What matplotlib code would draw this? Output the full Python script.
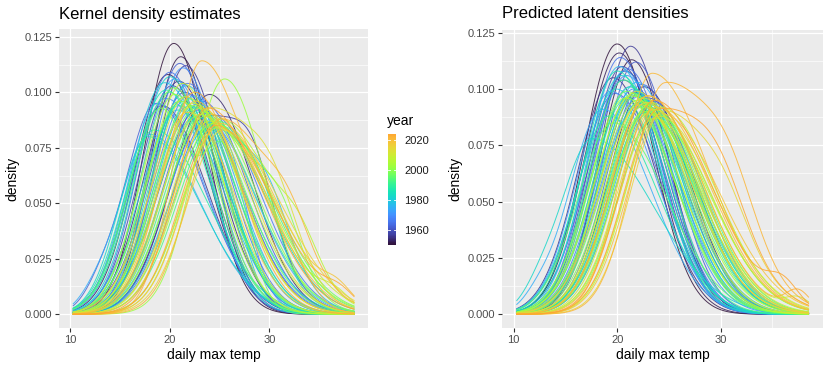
import numpy as np
import matplotlib
matplotlib.use("Agg")
import matplotlib.pyplot as plt
from matplotlib.colors import ListedColormap, Normalize
from matplotlib.cm import ScalarMappable

plt.rcParams['font.family'] = ['Liberation Sans', 'DejaVu Sans']

# ---------------- data ----------------
years = list(range(1950, 2025))
x_min, x_max = 10.3, 38.5

# Kernel density estimates: per-year curve shape (mode, peak height, left/right spread, extra bump)
kde_mode = [20.4, 21.1, 19.8, 24.0, 20.9, 19.2, 21.6, 23.5, 20.2, 22.8,
            21.5, 21.0, 18.6, 23.2, 20.0, 21.8, 24.2, 22.0, 19.5, 22.5,
            21.3, 18.8, 23.6, 20.5, 18.0, 22.3, 21.7, 23.9, 20.8, 19.4,
            22.6, 20.0, 17.8, 24.5, 21.2, 19.6, 23.0, 18.4, 21.5, 22.0,
            20.9, 23.3, 19.9, 24.8, 22.1, 19.0, 22.7, 25.0, 20.4, 23.5,
            23.6, 21.0, 25.5, 20.5, 24.3, 22.4, 25.0, 21.3, 23.0, 24.0,
            22.4, 24.8, 21.6, 24.0, 23.1, 25.3, 22.6, 21.8, 25.0, 24.2,
            23.2, 25.2, 22.5, 24.6, 23.8]
kde_peak = [0.122, 0.116, 0.108, 0.099, 0.105, 0.094, 0.112, 0.088, 0.103, 0.092,
            0.100, 0.113, 0.095, 0.096, 0.109, 0.104, 0.090, 0.099, 0.097, 0.093,
            0.111, 0.095, 0.087, 0.106, 0.081, 0.098, 0.103, 0.084, 0.092, 0.104,
            0.089, 0.107, 0.080, 0.086, 0.096, 0.101, 0.091, 0.083, 0.098, 0.094,
            0.094, 0.090, 0.100, 0.087, 0.097, 0.092, 0.093, 0.085, 0.102, 0.089,
            0.091, 0.096, 0.106, 0.099, 0.086, 0.094, 0.088, 0.104, 0.090, 0.087,
            0.095, 0.084, 0.098, 0.092, 0.093, 0.083, 0.096, 0.091, 0.086, 0.090,
            0.114, 0.088, 0.100, 0.085, 0.093]
kde_sd_left = [3.0, 3.0, 3.3, 3.8, 3.4, 3.3, 3.1, 3.7, 3.3, 3.9,
               3.6, 3.1, 3.1, 3.8, 3.2, 3.4, 3.9, 3.6, 3.3, 3.9,
               3.2, 3.1, 3.9, 3.3, 3.0, 3.6, 3.4, 3.9, 3.7, 3.3,
               3.9, 3.3, 2.9, 4.0, 3.6, 3.4, 3.7, 3.1, 3.5, 3.6,
               3.5, 3.8, 3.5, 3.9, 3.6, 3.2, 3.8, 3.7, 3.3, 3.8,
               3.8, 3.5, 3.2, 3.4, 3.7, 3.8, 3.5, 3.4, 3.8, 3.7,
               3.6, 3.6, 3.4, 3.7, 3.7, 3.5, 3.6, 3.8, 3.5, 3.6,
               2.8, 3.3, 3.4, 3.5, 3.3]
kde_sd_right = [3.4, 3.3, 3.9, 4.3, 4.0, 4.5, 3.6, 4.9, 4.0, 4.6,
                4.1, 3.5, 4.8, 4.6, 3.8, 4.2, 4.9, 4.4, 4.6, 4.8,
                3.8, 4.7, 5.0, 4.0, 5.2, 4.4, 4.0, 5.1, 4.6, 4.2,
                5.0, 3.9, 5.4, 5.2, 4.5, 4.3, 4.9, 5.4, 4.2, 4.6,
                4.6, 5.2, 4.3, 5.3, 4.4, 3.0, 4.8, 5.4, 4.1, 5.2,
                5.1, 4.5, 3.9, 4.3, 5.6, 4.7, 5.5, 3.9, 5.0, 5.6,
                4.7, 5.8, 4.3, 5.3, 5.0, 5.8, 4.6, 4.6, 5.6, 5.4,
                4.4, 5.6, 4.4, 5.7, 5.4]
kde_bump_x = [0, 0, 0, 0, 0, 0, 0, 28.5, 0, 0,
              0, 0, 13.0, 0, 0, 0, 0, 0, 26.0, 0,
              0, 0, 0, 0, 12.5, 0, 0, 30.0, 0, 25.5,
              0, 0, 0, 0, 0, 0, 29.0, 0, 0, 0,
              0, 0, 0, 0, 0, 25.6, 0, 0, 0, 31.0,
              0, 0, 0, 0, 0, 0, 33.0, 0, 0, 36.5,
              0, 0, 0, 30.5, 0, 0, 0, 0, 36.8, 0,
              31.0, 32.0, 0, 37.0, 0]
kde_bump_h = [0, 0, 0, 0, 0, 0, 0, 0.025, 0, 0,
              0, 0, 0.006, 0, 0, 0, 0, 0, 0.040, 0,
              0, 0, 0, 0, 0.005, 0, 0, 0.020, 0, 0.030,
              0, 0, 0, 0, 0, 0, 0.022, 0, 0, 0,
              0, 0, 0, 0, 0, 0.068, 0, 0, 0, 0.025,
              0, 0, 0, 0, 0, 0, 0.015, 0, 0, 0.006,
              0, 0, 0, 0.025, 0, 0, 0, 0, 0.007, 0,
              0.022, 0.014, 0, 0.006, 0]
kde_bump_w = [1, 1, 1, 1, 1, 1, 1, 2.0, 1, 1,
              1, 1, 1.5, 1, 1, 1, 1, 1, 2.0, 1,
              1, 1, 1, 1, 1.5, 1, 1, 2.2, 1, 2.0,
              1, 1, 1, 1, 1, 1, 2.0, 1, 1, 1,
              1, 1, 1, 1, 1, 2.2, 1, 1, 1, 2.2,
              1, 1, 1, 1, 1, 1, 2.0, 1, 1, 1.5,
              1, 1, 1, 2.5, 1, 1, 1, 1, 1.5, 1,
              2.5, 2.0, 1, 1.5, 1]

# Predicted latent densities: per-year curve shape
pred_mode = [20.0, 21.4, 20.2, 22.6, 20.8, 19.6, 21.3, 23.0, 20.5, 22.0,
             20.6, 21.8, 19.8, 22.4, 21.0, 20.3, 23.5, 21.6, 20.9, 22.2,
             21.2, 19.4, 22.8, 20.7, 18.6, 21.9, 20.2, 23.2, 21.5, 19.9,
             22.1, 20.4, 17.6, 23.0, 21.7, 20.0, 22.5, 19.2, 21.3, 22.9,
             21.0, 22.6, 20.6, 23.4, 21.8, 19.6, 22.2, 23.7, 20.9, 22.4,
             23.1, 21.5, 22.7, 20.8, 23.6, 22.0, 24.2, 21.4, 22.9, 23.3,
             22.5, 24.0, 21.9, 23.5, 22.8, 24.5, 23.0, 22.2, 24.3, 23.8,
             23.4, 24.6, 22.9, 24.0, 23.6]
pred_peak = [0.120, 0.113, 0.116, 0.101, 0.108, 0.105, 0.119, 0.096, 0.110, 0.099,
             0.104, 0.112, 0.098, 0.102, 0.109, 0.114, 0.094, 0.100, 0.106, 0.097,
             0.101, 0.099, 0.095, 0.108, 0.091, 0.103, 0.110, 0.093, 0.097, 0.100,
             0.094, 0.106, 0.078, 0.092, 0.098, 0.108, 0.095, 0.088, 0.101, 0.090,
             0.096, 0.093, 0.104, 0.091, 0.097, 0.085, 0.094, 0.089, 0.099, 0.092,
             0.093, 0.098, 0.090, 0.096, 0.087, 0.095, 0.092, 0.097, 0.089, 0.094,
             0.096, 0.088, 0.099, 0.091, 0.094, 0.090, 0.097, 0.093, 0.089, 0.092,
             0.107, 0.102, 0.097, 0.090, 0.095]
pred_sd_left = [3.2, 3.1, 3.3, 3.4, 3.3, 3.4, 3.0, 3.5, 3.2, 3.6,
                3.5, 3.2, 3.4, 3.4, 3.3, 3.1, 3.6, 3.5, 3.4, 3.7,
                3.4, 3.3, 3.5, 3.3, 3.2, 3.4, 3.2, 3.5, 3.6, 3.5,
                3.6, 3.4, 3.0, 3.5, 3.5, 3.3, 3.4, 3.2, 3.5, 3.6,
                3.6, 3.5, 3.3, 3.6, 3.5, 3.4, 3.6, 3.5, 3.4, 3.6,
                3.5, 3.6, 3.6, 3.5, 3.4, 3.7, 3.3, 3.6, 3.5, 3.4,
                3.5, 3.3, 3.5, 3.4, 3.6, 3.2, 3.5, 3.7, 3.3, 3.4,
                3.0, 3.1, 3.4, 3.3, 3.2]
pred_sd_right = [3.5, 3.6, 3.6, 4.3, 3.9, 4.1, 3.5, 4.6, 3.8, 4.4,
                 4.0, 3.7, 4.4, 4.3, 3.9, 3.8, 4.7, 4.3, 4.1, 4.5,
                 4.3, 4.4, 4.7, 4.0, 4.7, 4.2, 3.9, 4.7, 4.5, 4.4,
                 4.7, 4.1, 6.0, 4.9, 4.6, 4.1, 4.8, 4.8, 4.4, 4.9,
                 4.7, 4.9, 4.3, 5.0, 4.7, 5.2, 4.9, 5.3, 4.6, 5.0,
                 5.0, 4.6, 5.2, 4.8, 5.4, 4.9, 5.3, 4.7, 5.3, 5.1,
                 4.9, 5.5, 4.7, 5.4, 5.0, 5.6, 5.0, 5.1, 5.6, 5.3,
                 5.4, 5.6, 5.3, 5.8, 5.5]
pred_bump_x = [0, 0, 0, 0, 0, 0, 0, 0, 0, 0,
               0, 0, 0, 0, 0, 0, 0, 0, 0, 0,
               0, 0, 0, 0, 12.3, 0, 0, 0, 0, 0,
               0, 0, 12.5, 0, 0, 0, 0, 0, 0, 0,
               0, 0, 0, 0, 0, 0, 0, 0, 0, 0,
               0, 0, 0, 0, 0, 0, 0, 0, 0, 37.5,
               0, 0, 0, 0, 0, 30.5, 0, 0, 0, 0,
               0, 31.0, 37.5, 30.0, 36.0]
pred_bump_h = [0, 0, 0, 0, 0, 0, 0, 0, 0, 0,
               0, 0, 0, 0, 0, 0, 0, 0, 0, 0,
               0, 0, 0, 0, 0.004, 0, 0, 0, 0, 0,
               0, 0, 0.006, 0, 0, 0, 0, 0, 0, 0,
               0, 0, 0, 0, 0, 0, 0, 0, 0, 0,
               0, 0, 0, 0, 0, 0, 0, 0, 0, 0.006,
               0, 0, 0, 0, 0, 0.012, 0, 0, 0, 0,
               0, 0.022, 0.009, 0.020, 0.010]
pred_bump_w = [1, 1, 1, 1, 1, 1, 1, 1, 1, 1,
               1, 1, 1, 1, 1, 1, 1, 1, 1, 1,
               1, 1, 1, 1, 1.3, 1, 1, 1, 1, 1,
               1, 1, 1.5, 1, 1, 1, 1, 1, 1, 1,
               1, 1, 1, 1, 1, 1, 1, 1, 1, 1,
               1, 1, 1, 1, 1, 1, 1, 1, 1, 1.3,
               1, 1, 1, 1, 1, 2.2, 1, 1, 1, 1,
               1, 2.5, 1.2, 2.5, 1.5]

cbar_ticks = [1960, 1980, 2000, 2020]

# ---------------- drawing ----------------
W, H = 830, 369
fig = plt.figure(figsize=(W / 100, H / 100), dpi=100)

base = matplotlib.colormaps['turbo']
cmap = ListedColormap(base(np.linspace(0.0, 0.70, 256)))
norm = Normalize(min(years), max(years))


def px_axes(x0, y0, x1, y1):
    return fig.add_axes([x0 / W, 1 - y1 / H, (x1 - x0) / W, (y1 - y0) / H])


def curve(x, m, h, sl, sr, bx, bh, bw):
    s = np.where(x < m, sl, sr)
    y = h * np.exp(-0.5 * ((x - m) / s) ** 2)
    y = y + bh * np.exp(-0.5 * ((x - bx) / bw) ** 2)
    return y


def style(ax, ylim):
    ax.set_facecolor('#EBEBEB')
    for s in ax.spines.values():
        s.set_visible(False)
    ax.set_xlim(8.87, 39.9)
    ax.set_ylim(*ylim)
    ax.set_xticks([10, 20, 30])
    ax.set_xticks([15, 25, 35], minor=True)
    yt = [0, 0.025, 0.05, 0.075, 0.1, 0.125]
    ax.set_yticks(yt)
    ax.set_yticklabels(['0.000', '0.025', '0.050', '0.075', '0.100', '0.125'])
    ax.set_yticks([0.0125, 0.0375, 0.0625, 0.0875, 0.1125], minor=True)
    ax.grid(True, which='major', color='white', lw=0.9)
    ax.grid(True, which='minor', color='white', lw=0.45)
    ax.set_axisbelow(True)
    ax.tick_params(which='major', length=2.8, width=0.8, color='#333333',
                   labelsize=8, labelcolor='#4D4D4D', pad=2)
    ax.tick_params(which='minor', length=0)
    ax.set_xlabel('daily max temp', fontsize=10, labelpad=2.5)
    ax.set_ylabel('density', fontsize=10, labelpad=4)


xs = np.linspace(x_min, x_max, 400)

ax1 = px_axes(59, 29, 368, 328)
style(ax1, (-0.0062, 0.1285))
for i, yr in enumerate(years):
    ys = curve(xs, kde_mode[i], kde_peak[i], kde_sd_left[i], kde_sd_right[i],
               kde_bump_x[i], kde_bump_h[i], kde_bump_w[i])
    ax1.plot(xs, ys, color=cmap(norm(yr)), lw=0.7, alpha=0.85)

ax2 = px_axes(502, 30, 823, 328)
style(ax2, (-0.0061, 0.1262))
for i, yr in enumerate(years):
    ys = curve(xs, pred_mode[i], pred_peak[i], pred_sd_left[i], pred_sd_right[i],
               pred_bump_x[i], pred_bump_h[i], pred_bump_w[i])
    ax2.plot(xs, ys, color=cmap(norm(yr)), lw=0.7, alpha=0.85)

fig.text(59 / W, 1 - 14 / H, 'Kernel density estimates', fontsize=12,
         ha='left', va='center')
fig.text(502 / W, 1 - 14 / H, 'Predicted latent densities', fontsize=12,
         ha='left', va='center')

# colour bar legend
cax = px_axes(388, 133.5, 396, 244.5)
cb = fig.colorbar(ScalarMappable(norm=norm, cmap=cmap), cax=cax)
cb.outline.set_visible(False)
cb.set_ticks(cbar_ticks)
cax.tick_params(length=0, labelsize=8, labelcolor='#1A1A1A', pad=6)
for t in cbar_ticks:
    cax.plot([0, 0.2], [t, t], color='white', lw=0.6, transform=cax.get_yaxis_transform())
    cax.plot([0.8, 1.0], [t, t], color='white', lw=0.6, transform=cax.get_yaxis_transform())
fig.text(387 / W, 1 - 121 / H, 'year', fontsize=10, ha='left', va='center')

fig.savefig('out.png', dpi=100)
